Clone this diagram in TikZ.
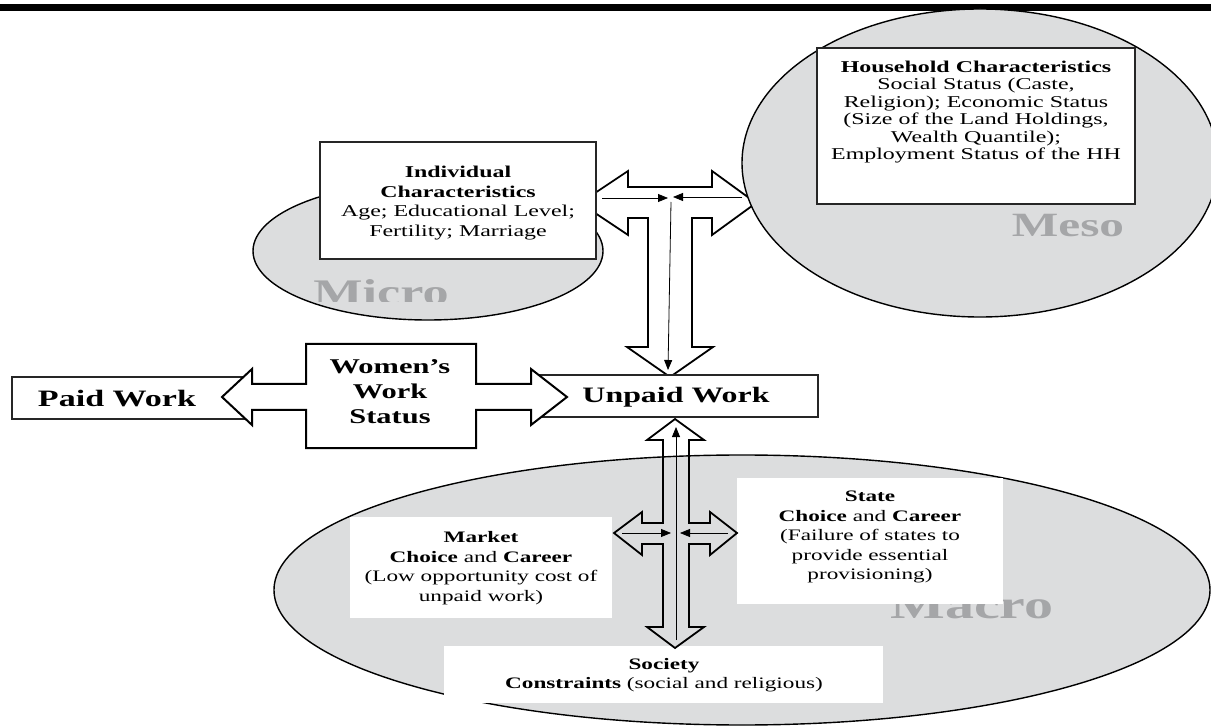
\documentclass[tikz,border=0pt]{standalone}
\usepackage{fontspec}
\setmainfont{Liberation Serif}[FakeStretch=1.45]
\usetikzlibrary{arrows.meta}
\definecolor{fillgray}{RGB}{220,221,222}
\definecolor{lblgray}{RGB}{165,166,168}
\begin{document}
\begin{tikzpicture}[x=1pt,y=-1pt,
  blk/.style={draw=black, line width=1.8pt, line join=miter},
  ell/.style={draw=black, line width=1.4pt, fill=fillgray},
  bx/.style={draw=black!85, line width=2pt, fill=white, inner sep=0pt},
  wbx/.style={fill=white, inner sep=0pt},
  txt/.style={align=center, inner sep=0pt, font=\fontsize{16}{19.5}\selectfont},
  bigl/.style={text=lblgray, inner sep=0pt, anchor=base},
  thinarr/.style={line width=0.8pt, -{Triangle[length=10pt,width=8pt]}},
]
\useasboundingbox (0,0) rectangle (1211,727);
% header bar
\fill[black] (0,4) rectangle (1211,11);

% ---------- Macro ----------
\draw[ell] (742,590) ellipse [x radius=468pt, y radius=135pt];
\node[bigl, font=\fontsize{40}{40}\selectfont\bfseries] (macrolbl) at (972,618) {Macro};
\node[wbx, minimum width=262pt, minimum height=101pt] (marketbox) at (481,567.5) {};
\node[txt] (markettxt) at (481,568) {\textbf{Market}\\\textbf{Choice} and \textbf{Career}\\(Low opportunity cost of\\unpaid work)};
\node[wbx, minimum width=266pt, minimum height=126pt] (statebox) at (870,541) {};
\node[txt] (statetxt) at (870,537) {\textbf{State}\\\textbf{Choice} and \textbf{Career}\\(Failure of states to\\provide essential\\provisioning)};
\node[wbx, minimum width=439pt, minimum height=57pt] (societybox) at (663.5,674.5) {};
\node[txt] (societytxt) at (664,675) {\textbf{Society}\\\textbf{Constraints} (social and religious)};

% cross arrow
\draw[blk] (675,419) -- (704,440) -- (689,440) -- (689,523) -- (710,523) -- (710,512) -- (737,533)
  -- (710,555) -- (710,544) -- (689,544) -- (689,627) -- (704,627) -- (675,648) -- (647,627)
  -- (663,627) -- (663,544) -- (642,544) -- (642,555) -- (614,533) -- (642,512) -- (642,523)
  -- (663,523) -- (663,440) -- (647,440) -- cycle;
\coordinate (cl0) at (622,533); \coordinate (cl1) at (671,533);
\coordinate (cr0) at (728,533); \coordinate (cr1) at (680,533);
\coordinate (cv0) at (676,640); \coordinate (cv1) at (676,427);
\draw[thinarr] (cl0) -- (cl1);
\draw[thinarr] (cr0) -- (cr1);
\draw[thinarr] (cv0) -- (cv1);

% ---------- Micro ----------
\draw[ell] (428,251) ellipse [x radius=175pt, y radius=69pt];
\begin{scope}
  \clip (250,260) rectangle (600,302);
  \node[bigl, font=\fontsize{36}{36}\selectfont\bfseries] (microlbl) at (381,305) {Micro};
\end{scope}

% T arrow
\draw[blk] (580,203) -- (628,171) -- (628,187) -- (712,187) -- (712,171) -- (756,203) -- (712,235)
  -- (712,218) -- (692,218) -- (692,347) -- (713,347) -- (670,377) -- (627,347) -- (648,347)
  -- (648,218) -- (628,218) -- (628,235) -- cycle;
\coordinate (tl0) at (602,198); \coordinate (tl1) at (668,198);
\coordinate (tr0) at (742,197); \coordinate (tr1) at (673,197);
\coordinate (tv0) at (671,202); \coordinate (tv1) at (668,370);
\draw[thinarr] (tl0) -- (tl1);
\draw[thinarr] (tr0) -- (tr1);
\draw[thinarr] (tv0) -- (tv1);

\node[bx, minimum width=276pt, minimum height=117pt] (indbox) at (458,200.5) {};
\node[txt, font=\fontsize{16.5}{19.5}\selectfont] (indtxt) at (458,203) {\textbf{Individual}\\\textbf{Characteristics}\\Age; Educational Level;\\Fertility; Marriage};

% ---------- Meso ----------
\draw[ell] (980,163) ellipse [x radius=238pt, y radius=154pt];
\node[bx, minimum width=318pt, minimum height=156pt] (mesobox) at (976,126) {};
\node[txt, font=\fontsize{16.5}{17.5}\selectfont] (mesotxt) at (976,112) {\textbf{Household Characteristics}\\Social Status (Caste,\\Religion); Economic Status\\(Size of the Land Holdings,\\Wealth Quantile);\\Employment Status of the HH};
\node[bigl, font=\fontsize{34}{34}\selectfont\bfseries] (mesolbl) at (1068,237) {Meso};

% ---------- Work status row ----------
\node[bx, minimum width=233pt, minimum height=42pt] (paidbox) at (128.5,398) {};
\node[bx, minimum width=279pt, minimum height=42pt] (unpaidbox) at (678.5,396) {};
\draw[blk, fill=white, line width=2pt] (306,344) -- (476,344) -- (476,384) -- (531,384) -- (531,369) -- (567,397)
  -- (531,425) -- (531,410) -- (476,410) -- (476,448) -- (306,448) -- (306,410) -- (252,410)
  -- (252,425) -- (222,397) -- (252,369) -- (252,384) -- (306,384) -- cycle;
\node[inner sep=0pt, font=\fontsize{23.5}{23.5}\selectfont\bfseries] (paidtxt) at (117,399) {Paid Work};
\node[inner sep=0pt, font=\fontsize{22}{22}\selectfont\bfseries] (unpaidtxt) at (676,397) {Unpaid Work};
\node[align=center, inner sep=0pt, font=\fontsize{21}{25}\selectfont\bfseries] (womentxt) at (390,392) {Women’s\\Work\\Status};
\end{tikzpicture}
\end{document}
